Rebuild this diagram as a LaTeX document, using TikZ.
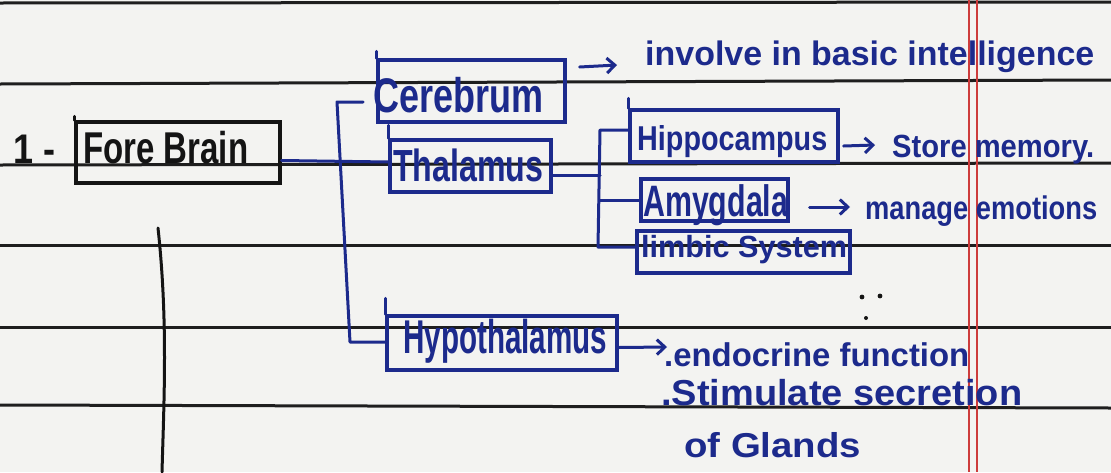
\documentclass[tikz,border=0pt]{standalone}
\usepackage{fontspec}
\setmainfont{Liberation Sans}
\usepackage{graphicx}
\usetikzlibrary{arrows.meta,fit,calc}
\definecolor{paper}{RGB}{243,243,241}
\definecolor{rulecol}{RGB}{30,30,30}
\definecolor{ink}{RGB}{28,42,140}
\definecolor{blk}{RGB}{20,20,20}
\definecolor{margincol}{RGB}{205,60,60}
\newcommand\hw[3]{\scalebox{1}[#2]{\resizebox{#1pt}{!}{#3}}}
\tikzset{
 ruled/.style={draw=rulecol, line width=3pt},
 redline/.style={draw=margincol, line width=2pt},
 bbox/.style={draw=ink, line width=3.2pt, inner sep=0pt, rectangle},
 kbox/.style={bbox, draw=blk},
 conn/.style={draw=ink, line width=3pt, line join=round, line cap=round},
 kconn/.style={conn, draw=blk},
 arr/.style={conn, -{Straight Barb[length=8pt,width=15pt]}},
 txt/.style={anchor=base west, inner sep=0pt, text=ink, font=\bfseries},
 ktxt/.style={txt, text=blk},
}
\begin{document}
\begin{tikzpicture}[x=1pt,y=-1pt]
\useasboundingbox (0,0) rectangle (1111,472);
\fill[paper] (0,0) rectangle (1111,472);
% ruled lines
\draw[ruled] (0,3) -- (1111,2);
\draw[ruled] (0,84) -- (1111,80);
\draw[ruled] (0,165) -- (1111,163);
\draw[ruled] (0,245) -- (1111,245);
\draw[ruled] (0,327) -- (1111,327);
\draw[ruled] (0,405) -- (1111,408);
% margin
\draw[redline] (969,0) -- (969,472);
\draw[redline] (977,0) -- (977,472);

% boxes
\node[kbox, fit={(76,122) (280,183)}] (fore) {};
\node[bbox, fit={(378,60) (565,122)}] (cer) {};
\node[bbox, fit={(390,140) (551,192)}] (thal) {};
\node[bbox, fit={(630,110) (838,162)}] (hip) {};
\node[bbox, fit={(641,179) (788,221)}] (amy) {};
\node[bbox, fit={(637,231) (850,273)}] (lim) {};
\node[bbox, fit={(387,316) (617,370)}] (hyp) {};

% left-edge overshoots
\draw[kconn] (fore.north west) -- ++(0,-4);
\draw[conn] (cer.north west) -- ++(0,-7);
\draw[conn] (thal.north west) -- ++(0,-13);
\draw[conn] (hip.north west) -- ++(0,-10);
\draw[conn] (hyp.north west) -- ++(0,-16);

% texts
\node[ktxt] (one) at (13,163) {\hw{42}{1.15}{1 -}};
\node[ktxt] (foreT) at (83,163) {\hw{165}{1.35}{Fore Brain}};
\node[txt] (cerT) at (373,112) {\hw{170}{1.35}{Cerebrum}};
\node[txt] (thalT) at (393,181) {\hw{150}{1.4}{Thalamus}};
\node[txt] (hipT) at (637,150) {\hw{190}{1.2}{Hippocampus}};
\node[txt] (amyT) at (643,216) {\hw{145}{1.45}{Amygdala}};
\node[txt] (limT) at (641,257) {\hw{206}{1.0}{limbic System}};
\node[txt] (hypT) at (403,353) {\hw{204}{1.6}{Hypothalamus}};
\node[txt] (inv) at (645,65) {\hw{449}{1.0}{involve in basic intelligence}};
\node[txt] (store) at (892,157) {\hw{202}{1.1}{Store memory.}};
\node[txt] (manage) at (865,219) {\hw{232}{1.2}{manage emotions}};
\node[txt] (endo) at (664,366) {\hw{305}{1.0}{.endocrine function}};
\node[txt] (stim) at (661,405) {\hw{361}{0.95}{.Stimulate secretion}};
\node[txt] (glands) at (684,457) {\hw{177}{0.9}{of Glands}};

% bracket coordinates
\coordinate (c1) at (363,102);
\coordinate (b1top) at (337,102);
\coordinate (b1bot) at (350,342);
\coordinate (b2top) at (600,130);
\coordinate (b2bot) at (598,247);
\coordinate (invA) at (617,65);
\coordinate (storeA) at (875,145);
\coordinate (manA) at (850,207);
\coordinate (endoA) at (667,347);

% connectors
\draw[conn] ([yshift=-8pt]fore.east) -- ([yshift=4pt]thal.west);
\draw[conn] (c1) -- (b1top) -- (b1bot) -- (b1bot -| hyp.west);
\draw[conn] ([yshift=-9pt]thal.east) -- ([yshift=-9pt]thal.east -| b2top);
\draw[conn] (b2top -| hip.west) -- (b2top) -- (b2bot) -- (b2bot -| lim.west);
\draw[conn] (amy.west -| b2top) -- (amy.west);

% arrows
\draw[arr] ([xshift=13pt,yshift=24pt]cer.east) -- (invA);
\draw[arr] ([xshift=4pt,yshift=-10pt]hip.east) -- (storeA);
\draw[arr] ([xshift=20pt,yshift=-7pt]amy.east) -- (manA);
\draw[arr] ([yshift=-4.5pt]hyp.east) -- (endoA);

% black vertical line
\coordinate (v1) at (158,228);
\coordinate (v2) at (162,472);
\draw[kconn] (v1) .. controls (168,320) and (164,400) .. (v2);

% ink dots
\fill[blk] (862,297) circle (2.4);
\fill[blk] (880,296) circle (2.4);
\fill[blk] (866,318) circle (2);
\end{tikzpicture}
\end{document}
